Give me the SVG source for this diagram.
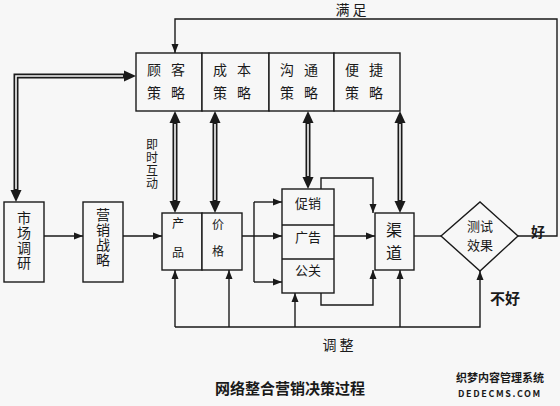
<svg xmlns="http://www.w3.org/2000/svg" xmlns:xlink="http://www.w3.org/1999/xlink" width="560" height="406" viewBox="0 0 560 406">
<style>
.box{fill:#f7f7f7;stroke:#1a1a1a;stroke-width:1.4}
.ln{fill:none;stroke:#1a1a1a;stroke-width:1.4}
.dbk{fill:none;stroke:#1a1a1a;stroke-width:5}
.dwh{fill:none;stroke:#f7f7f7;stroke-width:1.6}
.t{font-family:"Noto Sans CJK SC","Noto Sans",sans-serif;fill:#1a1a1a}
.b{font-weight:bold}
.v{writing-mode:vertical-rl;text-anchor:middle}
</style>
<defs>
<marker id="a" markerUnits="userSpaceOnUse" markerWidth="9" markerHeight="8" refX="9" refY="4" orient="auto"><path d="M0,0.5 L9,4 L0,7.5 z" fill="#1a1a1a"/></marker>
<path id="dh" d="M0,0 L-5.5,-12 L5.5,-12 z" fill="#1a1a1a"/>
</defs>
<rect x="0" y="0" width="560" height="406" fill="#f7f7f7"/>

<g id="connectors">
  <path class="ln" d="M518,236 H557 V19 H175 V53" marker-end="url(#a)"/>
  <path class="dbk" d="M16,191 V76 H125"/>
  <path class="dwh" d="M16,189 V76 H123"/>
  <use href="#dh" transform="translate(16,202)"/>
  <use href="#dh" transform="translate(136,76) rotate(-90)"/>
  <path class="dbk" d="M175,122 V202"/><path class="dwh" d="M175,124 V200"/>
  <use href="#dh" transform="translate(175,111) rotate(180)"/><use href="#dh" transform="translate(175,213)"/>
  <path class="dbk" d="M215,122 V202"/><path class="dwh" d="M215,124 V200"/>
  <use href="#dh" transform="translate(215,111) rotate(180)"/><use href="#dh" transform="translate(215,213)"/>
  <path class="dbk" d="M308,122 V178"/><path class="dwh" d="M308,124 V176"/>
  <use href="#dh" transform="translate(308,111) rotate(180)"/><use href="#dh" transform="translate(308,189)"/>
  <path class="dbk" d="M400,122 V202"/><path class="dwh" d="M400,124 V200"/>
  <use href="#dh" transform="translate(400,111) rotate(180)"/><use href="#dh" transform="translate(400,213)"/>
  <path class="ln" d="M44,236 H83" marker-end="url(#a)"/>
  <path class="ln" d="M123,236 H162" marker-end="url(#a)"/>
  <path class="ln" d="M242,236 H282" marker-end="url(#a)"/>
  <path class="ln" d="M254,202 V282"/>
  <path class="ln" d="M254,202 H282" marker-end="url(#a)"/>
  <path class="ln" d="M254,282 H282" marker-end="url(#a)"/>
  <path class="ln" d="M334,236 H375" marker-end="url(#a)"/>
  <path class="ln" d="M321,189 V178 H373 V213" marker-end="url(#a)"/>
  <path class="ln" d="M321,293 V305 H373 V270" marker-end="url(#a)"/>
  <path class="ln" d="M414,236 H441"/>
  <path class="ln" d="M175,327 H480 V271" marker-end="url(#a)"/>
  <path class="ln" d="M175,327 V270" marker-end="url(#a)"/>
  <path class="ln" d="M229,327 V270" marker-end="url(#a)"/>
  <path class="ln" d="M295,327 V293" marker-end="url(#a)"/>
  <path class="ln" d="M400,327 V270" marker-end="url(#a)"/>
  <text class="t" x="351" y="15" font-size="14" text-anchor="middle">满 足</text>
  <text class="t b" x="538" y="237" font-size="14" text-anchor="middle">好</text>
  <text class="t b" x="505" y="304" font-size="15" text-anchor="middle">不好</text>
  <text class="t" x="338" y="350" font-size="14" text-anchor="middle">调 整</text>
  <text class="t v" x="152" y="164" font-size="12" letter-spacing="1">即时互动</text>
</g>

<g id="customer">
  <rect class="box" x="136" y="53" width="66" height="58"/>
  <text class="t" font-size="14" x="147" y="75">顾<tspan x="171">客</tspan></text>
  <text class="t" font-size="14" x="147" y="98">策<tspan x="171">略</tspan></text>
</g>
<g id="cost">
  <rect class="box" x="202" y="53" width="67" height="58"/>
  <text class="t" font-size="14" x="213" y="75">成<tspan x="237">本</tspan></text>
  <text class="t" font-size="14" x="213" y="98">策<tspan x="237">略</tspan></text>
</g>
<g id="communication">
  <rect class="box" x="269" y="53" width="65" height="58"/>
  <text class="t" font-size="14" x="280" y="75">沟<tspan x="304">通</tspan></text>
  <text class="t" font-size="14" x="280" y="98">策<tspan x="304">略</tspan></text>
</g>
<g id="convenience">
  <rect class="box" x="334" y="53" width="66" height="58"/>
  <text class="t" font-size="14" x="345" y="75">便<tspan x="369">捷</tspan></text>
  <text class="t" font-size="14" x="345" y="98">策<tspan x="369">略</tspan></text>
</g>

<g id="research">
  <rect class="box" x="4" y="202" width="40" height="80"/>
  <text class="t v" x="24" y="241" font-size="14" letter-spacing="1">市场调研</text>
</g>
<g id="strategy">
  <rect class="box" x="83" y="202" width="40" height="80"/>
  <text class="t v" x="103" y="238" font-size="14" letter-spacing="1">营销战略</text>
</g>
<g id="product">
  <rect class="box" x="162" y="213" width="40" height="57"/>
  <text class="t" font-size="12" x="178" y="228" text-anchor="middle">产</text>
  <text class="t" font-size="12" x="178" y="257" text-anchor="middle">品</text>
</g>
<g id="price">
  <rect class="box" x="202" y="213" width="40" height="57"/>
  <text class="t" font-size="12" x="218" y="229" text-anchor="middle">价</text>
  <text class="t" font-size="12" x="218" y="256" text-anchor="middle">格</text>
</g>
<g id="promotion">
  <rect class="box" x="282" y="189" width="52" height="104"/>
  <line class="ln" x1="282" y1="225" x2="334" y2="225"/>
  <line class="ln" x1="282" y1="259" x2="334" y2="259"/>
  <text class="t" font-size="13" x="308" y="208" text-anchor="middle">促销</text>
  <text class="t" font-size="13" x="308" y="242" text-anchor="middle">广告</text>
  <text class="t" font-size="13" x="308" y="275" text-anchor="middle">公关</text>
</g>
<g id="channel">
  <rect class="box" x="375" y="213" width="39" height="57"/>
  <text class="t" font-size="16" x="394" y="236" text-anchor="middle">渠</text>
  <text class="t" font-size="16" x="394" y="259" text-anchor="middle">道</text>
</g>
<g id="test">
  <polygon class="box" points="441,236 480,202 518,236 480,271"/>
  <text class="t" font-size="13" x="480" y="231" text-anchor="middle">测试</text>
  <text class="t" font-size="13" x="480" y="250" text-anchor="middle">效果</text>
</g>

<text class="t b" x="290" y="394" font-size="15" text-anchor="middle">网络整合营销决策过程</text>
<text class="t b" x="500" y="382" font-size="11" text-anchor="middle" fill="#333">织梦内容管理系统</text>
<text class="t b" x="500" y="397" font-size="9" text-anchor="middle" letter-spacing="1.6" fill="#333">DEDECMS.COM</text>
</svg>
